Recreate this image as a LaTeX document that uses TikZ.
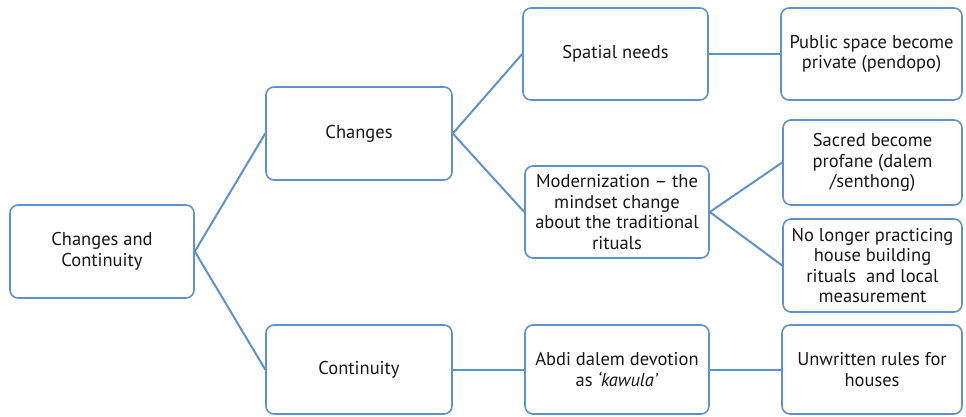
\documentclass[tikz,border=0pt]{standalone}
\usepackage{fontspec}
\setmainfont{PT Sans}
\definecolor{boxblue}{RGB}{96,146,200}
\definecolor{txt}{RGB}{25,23,23}
\begin{document}
\begin{tikzpicture}[x=1pt,y=-1pt,
  box/.style={draw=boxblue,line width=1.6pt,rounded corners=8pt,fill=white,
    align=center,text=txt,inner sep=0pt,
    font=\fontsize{18.5}{20.5}\selectfont},
  link/.style={draw=boxblue,line width=2pt}]
\useasboundingbox (0,0) rectangle (966,417);
\node[box,minimum width=184pt,minimum height=93pt] (root) at (102,251.5) {Changes and\\Continuity};
\node[box,minimum width=186pt,minimum height=93pt] (changes) at (359,133.5) {Changes};
\node[box,minimum width=186pt,minimum height=89pt] (cont) at (359,369.5) {Continuity};
\node[box,minimum width=185pt,minimum height=92pt] (spatial) at (615.5,54) {Spatial needs};
\node[box,minimum width=184pt,minimum height=92pt] (modern) at (617,212) {Modernization -- the\\mindset change\\about the traditional\\rituals};
\node[box,minimum width=181pt,minimum height=92pt] (public) at (871.5,54) {Public space become\\private (pendopo)};
\node[box,minimum width=179pt,minimum height=85pt] (sacred) at (872.5,162.5) {Sacred become\\profane (dalem\\/senthong)};
\node[box,minimum width=179pt,minimum height=93pt] (nolonger) at (872.5,265.5) {No longer practicing\\house building\\rituals\ \ and local\\measurement};
\node[box,minimum width=184pt,minimum height=89pt] (abdi) at (617,369.5) {Abdi dalem devotion\\as \textit{‘kawula’}};
\node[box,minimum width=180pt,minimum height=89pt] (unwritten) at (872,369.5) {Unwritten rules for\\houses};
\draw[link] (root.east) -- (changes.west);
\draw[link] (root.east) -- (cont.west);
\draw[link] (changes.east) -- (spatial.west);
\draw[link] (changes.east) -- (modern.west);
\draw[link] (spatial.east) -- (public.west);
\draw[link] (modern.east) -- (sacred.west);
\draw[link] (modern.east) -- (nolonger.west);
\draw[link] (cont.east) -- (abdi.west);
\draw[link] (abdi.east) -- (unwritten.west);
\end{tikzpicture}
\end{document}
